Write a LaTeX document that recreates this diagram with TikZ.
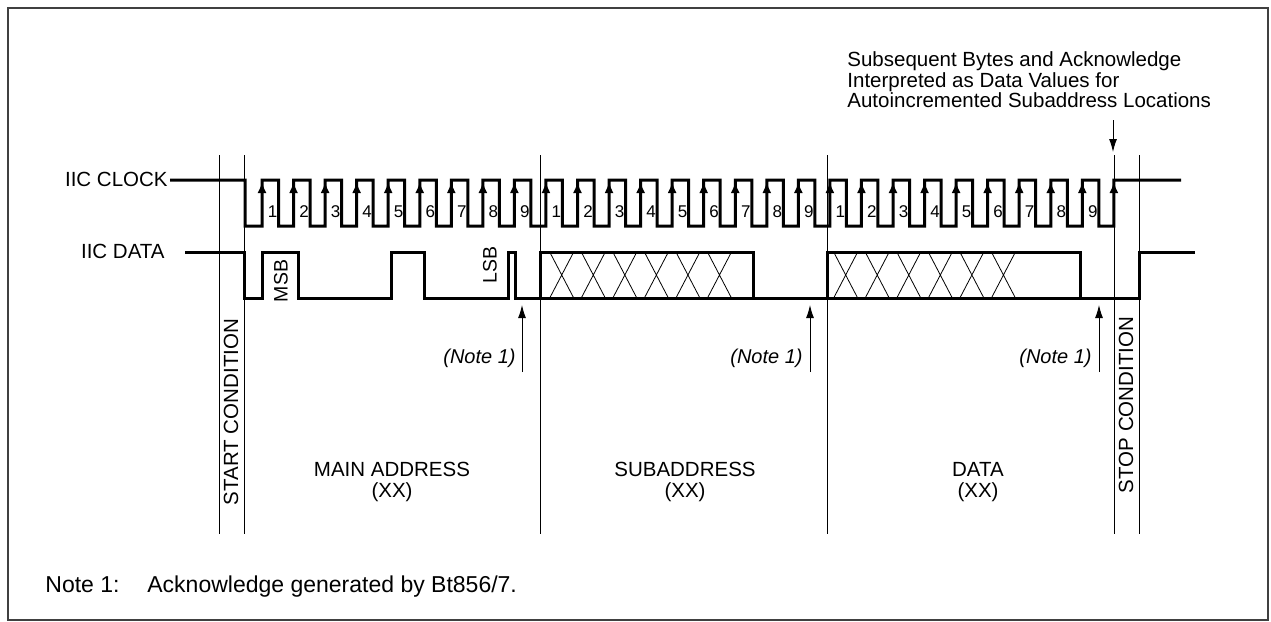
\documentclass[tikz,border=0pt]{standalone}
\usepackage{fontspec}
\setmainfont{Liberation Sans}
\usetikzlibrary{arrows.meta}

\begin{document}
\begin{tikzpicture}[x=0.5pt,y=-0.5pt]
  \tikzstyle{every node}=[inner sep=0pt,font=\fontsize{10.25}{10.25}\selectfont]
  \tikzstyle{signal}=[line width=1.5pt,line join=miter]
  \tikzstyle{guide}=[line width=0.5pt]
  \tikzstyle{hatch}=[line width=0.4pt]
  \tikzstyle{edge}=[line width=1pt,-{Latex[length=5.5pt,width=4.5pt]}]
  \tikzstyle{pointer}=[line width=0.5pt,-{Latex[length=6.5pt,width=4pt]}]
  \tikzstyle{bitnum}=[font=\fontsize{8.5}{8.5}\selectfont]
  \tikzstyle{vlabel}=[rotate=90,font=\fontsize{9.75}{9.75}\selectfont]
  \tikzstyle{notelabel}=[anchor=east,font=\fontsize{10}{10}\selectfont\itshape]
  \useasboundingbox (0,0) rectangle (1271,622);
  \draw[line width=0.75pt,black!75] (8,8) rectangle (1268,620);

  \node[anchor=east] (clk) at (168,179) {IIC CLOCK};
  \node[anchor=east] (dat) at (165,251) {IIC DATA};

  \foreach \gx in {219,244,540,827,1114,1139}
    \draw[guide] (\gx,155) -- (\gx,534);

  \draw[signal] (170,180) -- (245,180) -- (245,226) -- (262,226)
    \foreach \k in {0,...,26} {
      -- ({262+31.55*\k},180) -- ({278.5+31.55*\k},180)
      -- ({278.5+31.55*\k},226) -- ({293.55+31.55*\k},226)
    }
    -- (1113.85,180) -- (1181,180);
  \foreach \k in {0,...,27}
    \draw[edge] ({262+31.55*\k},204) -- ({262+31.55*\k},182);
  \foreach \k in {0,...,26} {
    \pgfmathtruncatemacro\bit{mod(\k,9)+1}
    \node[bitnum] (bit\k) at ({272.5+31.55*\k},212) {\bit};
  }

  \draw[signal] (185,252) -- (244,252) -- (244,298) -- (262,298)
    -- (262,252) -- (298,252) -- (298,298) -- (391,298)
    -- (391,252) -- (424,252) -- (424,298) -- (508,298)
    -- (508,252) -- (515,252) -- (515,298) -- (540,298)
    -- (753,298) -- (827,298) -- (1080,298) -- (1139,298)
    -- (1139,252) -- (1195,252);
  \draw[signal] (540,252) rectangle (753,298);
  \draw[signal] (827,252) rectangle (1080,298);
  \foreach \j in {9,10,11,12,13,14,18,19,20,21,22,23}
    \draw[hatch] ({265.775+31.55*\j},252) -- ({289.775+31.55*\j},298)
                 ({289.775+31.55*\j},252) -- ({265.775+31.55*\j},298);

  \node[vlabel] (msb) at (281,281) {MSB};
  \node[vlabel] (lsb) at (490,265) {LSB};

  \coordinate (ack1) at (522,305);
  \coordinate (ack1 foot) at (522,372);
  \coordinate (ack2) at (810,305);
  \coordinate (ack2 foot) at (810,372);
  \coordinate (ack3) at (1099,305);
  \coordinate (ack3 foot) at (1099,372);
  \draw[pointer] (ack1 foot) -- (ack1);
  \draw[pointer] (ack2 foot) -- (ack2);
  \draw[pointer] (ack3 foot) -- (ack3);
  \node[notelabel] (note1) at (516,358) {(Note 1)};
  \node[notelabel] (note2) at (803,358) {(Note 1)};
  \node[notelabel] (note3) at (1092,358) {(Note 1)};

  \node[rotate=90] (start) at (231,412) {START CONDITION};
  \node[rotate=90] (stop) at (1126,405) {STOP CONDITION};

  \node[align=center] (main) at (392,482) {MAIN ADDRESS\\(XX)};
  \node[align=center] (sub) at (685,482) {SUBADDRESS\\(XX)};
  \node[align=center] (data) at (978,482) {DATA\\(XX)};

  \node[anchor=west,align=left] (auto) at (847,80)
    {Subsequent Bytes and Acknowledge\\Interpreted as Data Values for\\Autoincremented Subaddress Locations};
  \coordinate (auto tip) at (1113,152);
  \coordinate (auto foot) at (1113,120);
  \draw[pointer] (auto foot) -- (auto tip);

  \node[anchor=base west,font=\fontsize{11.5}{11.5}\selectfont] (key) at (45,592) {Note 1:};
  \node[anchor=base west,font=\fontsize{11.5}{11.5}\selectfont] (keytext) at (147,592) {Acknowledge generated by Bt856/7.};
\end{tikzpicture}
\end{document}
